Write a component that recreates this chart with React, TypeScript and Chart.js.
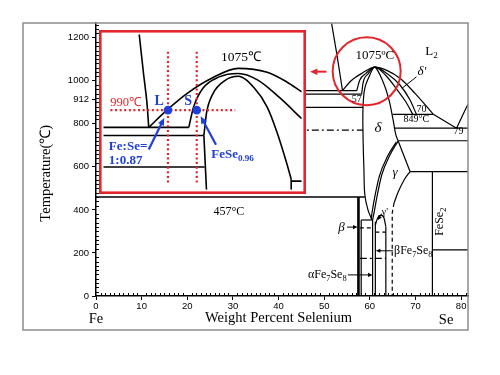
import React, { useEffect, useRef } from "react";
import { Chart, registerables } from "chart.js";
Chart.register(...registerables);

type Pt = { x: number; y: number };
const P = (x: number, y: number): Pt => ({ x, y });

// ---------- main diagram (wt% Se, °C) ----------
const xTickValues = [0, 10, 20, 30, 40, 50, 60, 70, 80];
const yTickValues = [0, 200, 400, 600, 800, 912, 1000, 1200];

const liquidusL1 = [P(51.6, 1268), P(52.8, 1119), P(54.0, 954)];
const monotectic954 = [P(44, 954), P(57.1, 954)];
const iso938 = [P(44, 938), P(58.2, 938)];
const iso876 = [P(44, 876), P(58.5, 876)];
const domeOuter = [P(54.0, 954), P(55.9, 1000), P(58.3, 1035), P(61.1, 1063), P(63.7, 1048), P(66.6, 1011), P(69.9, 941), P(73.9, 844)];
const outerTail = [P(73.9, 844), P(79.0, 779)];
const domeMid = [P(57.1, 952), P(57.8, 1003), P(59.1, 1033), P(61.1, 1063), P(63.9, 1031), P(66.6, 980), P(68.8, 910), P(70.2, 844)];
const domeInner = [P(58.2, 937), P(58.5, 989), P(59.6, 1031), P(61.1, 1063), P(63.5, 1024), P(65.7, 966), P(67.9, 901), P(69.4, 844)];
const deltaBoundary = [P(60.5, 353), P(59.6, 399), P(58.9, 469), P(58.7, 585), P(58.5, 748), P(58.5, 878), P(58.9, 966), P(60.0, 1027), P(61.1, 1063), P(62.9, 994), P(64.2, 910), P(65.1, 817), P(65.7, 748), P(66.2, 720)];
const liquidusL2 = [P(79.0, 779), P(80.2, 834), P(81.5, 891)];
const eutectic849 = [P(65.0, 844), P(73.9, 844)];
const iso780 = [P(65.3, 780), P(81.5, 780)];
const iso721 = [P(66.2, 721), P(81.5, 721)];
const gammaApex = [P(66.2, 720), P(68.8, 578)];
const iso578 = [P(68.8, 578), P(81.5, 578)];
const gammaRight = [P(65.3, 432), P(66.2, 483), P(67.5, 539), P(68.8, 578)];
const gammaRightDashed = [P(65.3, 432), P(64.9, 385), P(64.9, 0)];
const gammaLeftA = [P(60.6, 353), P(60.9, 385), P(61.5, 455), P(62.6, 562), P(64.4, 655), P(66.2, 720)];
const gammaLeftB = [P(60.3, 360), P(60.5, 390), P(61.0, 452), P(62.1, 558), P(63.9, 650), P(65.8, 716)];
const alphaLeft = [P(60.6, 353), P(60.6, 0)];
const alphaRight = [P(61.2, 345), P(61.2, 0)];
const gammaPrime = [P(61.2, 330), P(61.7, 362), P(62.4, 376), P(63.1, 362), P(63.5, 322)];
const gammaPrimeEdge = [P(63.5, 322), P(63.5, 0)];
const betaThick = [P(57.5, 460), P(57.5, 0)];
const betaEdge = [P(58.1, 353), P(58.1, 0)];
const iso353 = [P(58.1, 353), P(60.6, 353)];
const eutectoid457 = [P(0, 460), P(58.9, 460)];
const betaDashA = [P(57.8, 316), P(60.6, 316)];
const betaDashB = [P(61.2, 297), P(63.5, 297)];
const dashDot175 = [P(57.8, 175), P(63.5, 175)];
const dashDot770 = [P(44, 770), P(58.5, 770)];
const feSe2Line = [P(73.7, 578), P(73.7, 0)];
const iso214 = [P(73.7, 214), P(81.5, 214)];
const deltaPrimePointer = [P(67.0, 964), P(70.2, 1018)];

const mainLabels = [
  { text: "1075ºC", x: 61.1, y: 1119, size: 13 },
  { text: "L_{2}", x: 73.5, y: 1135, size: 13 },
  { text: "δ'", x: 71.4, y: 1042, size: 13, style: "italic" },
  { text: "57", x: 57.1, y: 914, size: 10 },
  { text: "70", x: 71.3, y: 866, size: 10 },
  { text: "849°C", x: 70.2, y: 821, size: 10 },
  { text: "79", x: 79.4, y: 763, size: 10 },
  { text: "δ", x: 61.8, y: 780, size: 15, style: "italic" },
  { text: "γ", x: 65.5, y: 571, size: 13, style: "italic" },
  { text: "457°C", x: 29.1, y: 389, size: 12 },
  { text: "β", x: 53.8, y: 319, size: 13, style: "italic" },
  { text: "βFe_{7}Se_{8}", x: 65.3, y: 210, size: 12, align: "left" },
  { text: "αFe_{7}Se_{8}", x: 54.9, y: 98, size: 12, align: "right" },
  { text: "γ'", x: 63.3, y: 390, size: 10 },
  { text: "FeSe_{2}", x: 75.4, y: 345, size: 12, rotate: -Math.PI / 2 },
];
const mainArrows = [
  { from: [55.0, 320], to: [57.3, 320] },
  { from: [65.1, 210], to: [61.3, 210] },
  { from: [55.2, 98], to: [60.6, 98] },
  { from: [62.6, 383], to: [61.7, 352] },
];

// ---------- inset (normalised 0-100 zoom of the δ dome) ----------
const insetL1 = [P(18.1, 100), P(20.2, 75.6), P(21.9, 57.3), P(22.9, 40.1)];
const insetIsoA = [P(0, 40.1), P(43.1, 40.1)];
const insetIsoB = [P(0, 34.9), P(50.7, 34.9)];
const insetIsoC = [P(0, 14.6), P(51.1, 14.6)];
const insetEdge = [P(50.7, 34.9), P(52.0, 0)];
const insetOuter = [P(22.9, 40.1), P(32.6, 51.8), P(42.3, 62.0), P(55.1, 72.0), P(68.0, 78.1), P(82.6, 75.6), P(92.3, 69.5), P(100, 63.0)];
const insetMid = [P(43.1, 40.1), P(45.5, 53.2), P(50.3, 65.4), P(58.4, 72.6), P(68.0, 74.8), P(77.7, 70.7), P(88.9, 59.2), P(100, 45.7)];
const insetInner = [P(50.7, 34.9), P(52.0, 49.2), P(55.1, 61.4), P(61.6, 70.5), P(68.0, 73.0), P(76.1, 65.4), P(82.6, 53.2), P(87.5, 37.2), P(92.3, 17.7), P(94.7, 6.7)];
const insetInnerFoot = [P(94.7, 6.7), P(94.7, 0)];
const insetStub = [P(94.7, 5.5), P(100, 5.5)];
const insetRedH = [P(3.6, 51.2), P(66.5, 51.2)];
const insetRedL = [P(32.6, 88.8), P(32.6, 3.5)];
const insetRedS = [P(47.1, 88.8), P(47.1, 3.5)];
const insetPoints = [P(32.6, 51.2), P(47.1, 51.2)];

const RED = "#e3262b";
const BLUE = "#1f3fd8";
const insetLabels = [
  { text: "990℃", x: 11.3, y: 55.7, size: 12.5, color: RED },
  { text: "L", x: 28.1, y: 56.6, size: 14, weight: "bold", color: BLUE },
  { text: "S", x: 42.8, y: 56.6, size: 14, weight: "bold", color: BLUE },
  { text: "1075℃", x: 69.4, y: 84.8, size: 13.5 },
  { text: "Fe:Se=", x: 2.8, y: 27.9, size: 13, weight: "bold", color: BLUE, align: "left" },
  { text: "1:0.87", x: 2.8, y: 18.7, size: 13, weight: "bold", color: BLUE, align: "left" },
  { text: "FeSe_{0.96}", x: 54.4, y: 22.7, size: 13, weight: "bold", color: BLUE, align: "left" },
];
const insetArrows = [
  { from: [22.9, 25.8], to: [30.7, 46.2] },
  { from: [56.8, 28.9], to: [49.1, 47.2] },
];

const SERIF = '"Liberation Serif", "Times New Roman", serif';

function drawRich(ctx: CanvasRenderingContext2D, text: string, x: number, y: number, o: any) {
  const size = o.size || 12;
  const segs: any[] = [];
  const re = /_\{([^}]*)\}/g;
  let last = 0;
  let m: RegExpExecArray | null;
  while ((m = re.exec(text))) {
    if (m.index > last) segs.push({ t: text.slice(last, m.index), sub: false });
    segs.push({ t: m[1], sub: true });
    last = re.lastIndex;
  }
  if (last < text.length) segs.push({ t: text.slice(last), sub: false });
  const font = (sub: boolean) =>
    [o.style || "", o.weight || "", (sub ? size * 0.7 : size) + "px", SERIF].filter(Boolean).join(" ");
  ctx.save();
  ctx.translate(x, y);
  if (o.rotate) ctx.rotate(o.rotate);
  let total = 0;
  for (const s of segs) {
    ctx.font = font(s.sub);
    s.w = ctx.measureText(s.t).width;
    total += s.w;
  }
  let cx = o.align === "left" ? 0 : o.align === "right" ? -total : -total / 2;
  ctx.fillStyle = o.color || "#000";
  ctx.textBaseline = "middle";
  ctx.textAlign = "left";
  for (const s of segs) {
    ctx.font = font(s.sub);
    ctx.fillText(s.t, cx, s.sub ? size * 0.3 : 0);
    cx += s.w;
  }
  ctx.restore();
}

function drawArrow(ctx: CanvasRenderingContext2D, x1: number, y1: number, x2: number, y2: number, color: string, width: number, head: number) {
  const a = Math.atan2(y2 - y1, x2 - x1);
  ctx.save();
  ctx.strokeStyle = color;
  ctx.fillStyle = color;
  ctx.lineWidth = width;
  ctx.setLineDash([]);
  ctx.beginPath();
  ctx.moveTo(x1, y1);
  ctx.lineTo(x2 - Math.cos(a) * head * 0.7, y2 - Math.sin(a) * head * 0.7);
  ctx.stroke();
  ctx.beginPath();
  ctx.moveTo(x2, y2);
  ctx.lineTo(x2 - head * Math.cos(a - 0.42), y2 - head * Math.sin(a - 0.42));
  ctx.lineTo(x2 - head * Math.cos(a + 0.42), y2 - head * Math.sin(a + 0.42));
  ctx.closePath();
  ctx.fill();
  ctx.restore();
}

const line = (data: Pt[], o: any = {}) => ({
  data,
  showLine: true,
  borderColor: "#000",
  borderWidth: 1.2,
  pointRadius: 0,
  pointHoverRadius: 0,
  fill: false,
  tension: 0,
  ...o,
});
const curve = (data: Pt[], o: any = {}) => line(data, { tension: 0.35, ...o });
const mono = (data: Pt[], o: any = {}) => line(data, { cubicInterpolationMode: "monotone", ...o });

const mainDecor = {
  id: "mainDecor",
  afterDraw(chart: any) {
    const { ctx, chartArea: ca } = chart;
    const xs = chart.scales.x;
    const ys = chart.scales.y;
    const X = (v: number) => xs.getPixelForValue(v);
    const Y = (v: number) => ys.getPixelForValue(v);
    ctx.save();
    // minor ticks
    ctx.strokeStyle = "#000";
    ctx.lineWidth = 1;
    ctx.beginPath();
    for (let v = 1; v <= 81; v++) {
      if (v % 10 === 0) continue;
      const p = Math.round(X(v)) + 0.5;
      ctx.moveTo(p, ca.bottom);
      ctx.lineTo(p, ca.bottom - 3);
    }
    for (let v = 20; v <= 1260; v += 20) {
      if (v % 200 === 0) continue;
      const p = Math.round(Y(v)) + 0.5;
      ctx.moveTo(ca.left, p);
      ctx.lineTo(ca.left + 3, p);
    }
    ctx.stroke();
    // outer grey frame
    ctx.strokeStyle = "#8c8c8c";
    ctx.lineWidth = 1.5;
    ctx.strokeRect(23, ca.top, ca.right - 23, 330 - ca.top);
    // red circle and arrow
    ctx.strokeStyle = RED;
    ctx.lineWidth = 2;
    ctx.beginPath();
    ctx.arc(X(59.3), Y(1044), 34, 0, Math.PI * 2);
    ctx.stroke();
    drawArrow(ctx, X(50.5), Y(1042), X(46.9), Y(1042), RED, 2, 8);
    // labels
    for (const l of mainLabels) drawRich(ctx, l.text, X(l.x), Y(l.y), l);
    for (const a of mainArrows) drawArrow(ctx, X(a.from[0]), Y(a.from[1]), X(a.to[0]), Y(a.to[1]), "#000", 1, 5);
    // axis titles
    drawRich(ctx, "Weight Percent Selenium", X(40), ca.bottom + 22, { size: 14.5 });
    drawRich(ctx, "Fe", X(0), ca.bottom + 23, { size: 14.5 });
    drawRich(ctx, "Se", X(76.7), ca.bottom + 24, { size: 14.5 });
    drawRich(ctx, "Temperature(℃)", ca.left - 50, Y(570), { size: 14.5, rotate: -Math.PI / 2 });
    ctx.restore();
  },
};

const insetDecor = {
  id: "insetDecor",
  afterDraw(chart: any) {
    const { ctx, width, height } = chart;
    const xs = chart.scales.x;
    const ys = chart.scales.y;
    const X = (v: number) => xs.getPixelForValue(v);
    const Y = (v: number) => ys.getPixelForValue(v);
    for (const l of insetLabels) drawRich(ctx, l.text, X(l.x), Y(l.y), l);
    for (const a of insetArrows) drawArrow(ctx, X(a.from[0]), Y(a.from[1]), X(a.to[0]), Y(a.to[1]), BLUE, 2.2, 8);
    ctx.save();
    ctx.strokeStyle = RED;
    ctx.lineWidth = 2.6;
    ctx.strokeRect(1.3, 1.3, width - 2.6, height - 2.6);
    ctx.restore();
  },
};

export default function App() {
  const mainRef = useRef<HTMLCanvasElement>(null);
  const insetRef = useRef<HTMLCanvasElement>(null);

  useEffect(() => {
    const tickFont = { family: '"Liberation Sans", Arial, sans-serif', size: 9.5 };
    const main = new Chart(mainRef.current as HTMLCanvasElement, {
      type: "scatter",
      data: {
        datasets: [
          mono(liquidusL1),
          line(monotectic954),
          line(iso938),
          line(iso876),
          mono(domeOuter),
          line(outerTail),
          mono(domeMid),
          mono(domeInner),
          curve(deltaBoundary),
          mono(liquidusL2),
          line(eutectic849),
          line(iso780),
          line(iso721),
          line(gammaApex),
          line(iso578),
          mono(gammaRight),
          line(gammaRightDashed, { borderDash: [4, 3] }),
          mono(gammaLeftA),
          mono(gammaLeftB),
          line(alphaLeft),
          line(alphaRight),
          mono(gammaPrime),
          line(gammaPrimeEdge),
          line(betaThick, { borderWidth: 2.6 }),
          line(betaEdge),
          line(iso353),
          line(eutectoid457, { borderWidth: 1.4 }),
          line(betaDashA, { borderDash: [4, 3] }),
          line(betaDashB, { borderDash: [4, 3] }),
          line(dashDot175, { borderDash: [7, 3, 2, 3] }),
          line(dashDot770, { borderDash: [7, 3, 2, 3] }),
          line(feSe2Line),
          line(iso214),
          line(deltaPrimePointer, { borderWidth: 1 }),
        ] as any,
      },
      options: {
        animation: false,
        responsive: false,
        devicePixelRatio: 1,
        events: [],
        layout: { padding: { top: 23, right: 32, left: 0, bottom: 0 } },
        plugins: { legend: { display: false }, tooltip: { enabled: false } },
        scales: {
          x: {
            type: "linear",
            min: 0,
            max: 81.5,
            afterBuildTicks: (s: any) => {
              s.ticks = xTickValues.map((v) => ({ value: v }));
            },
            afterFit: (s: any) => {
              s.height = 79;
            },
            ticks: { font: tickFont, color: "#000", padding: 1, maxRotation: 0, autoSkip: false, callback: (v: any) => String(v) },
            grid: { drawOnChartArea: false, color: "#000", tickLength: 4, lineWidth: 1 },
            border: { color: "#000", width: 1.5 },
          },
          y: {
            type: "linear",
            min: 0,
            max: 1268,
            afterBuildTicks: (s: any) => {
              s.ticks = yTickValues.map((v) => ({ value: v }));
            },
            afterFit: (s: any) => {
              s.width = 96;
            },
            ticks: { font: tickFont, color: "#000", padding: 3, autoSkip: false, callback: (v: any) => String(v) },
            grid: { drawOnChartArea: false, color: "#000", tickLength: 4, lineWidth: 1 },
            border: { color: "#000", width: 1.5 },
          },
        },
      } as any,
      plugins: [mainDecor],
    });

    const red = { borderColor: RED, borderWidth: 2.2, borderDash: [2, 2.6] };
    const lw = { borderWidth: 1.6 };
    const inset = new Chart(insetRef.current as HTMLCanvasElement, {
      type: "scatter",
      data: {
        datasets: [
          { data: insetPoints, pointRadius: 4.3, pointBackgroundColor: BLUE, pointBorderWidth: 0, showLine: false },
          line(insetRedH, red),
          line(insetRedL, red),
          line(insetRedS, red),
          curve(insetL1, { borderWidth: 1.6, tension: 0.2 }),
          line(insetIsoA, lw),
          line(insetIsoB, lw),
          line(insetIsoC, lw),
          line(insetEdge, lw),
          mono(insetOuter, lw),
          mono(insetMid, lw),
          mono(insetInner, lw),
          line(insetInnerFoot, lw),
          line(insetStub, lw),
        ] as any,
      },
      options: {
        animation: false,
        responsive: false,
        devicePixelRatio: 1,
        events: [],
        layout: { padding: 0 },
        plugins: { legend: { display: false }, tooltip: { enabled: false } },
        scales: {
          x: { type: "linear", min: 0, max: 100, display: false },
          y: { type: "linear", min: 0, max: 100, display: false },
        },
      } as any,
      plugins: [insetDecor],
    });

    return () => {
      main.destroy();
      inset.destroy();
    };
  }, []);

  return (
    <div style={{ position: "absolute", left: 0, top: 0, width: 500, height: 375, background: "#fff" }}>
      <canvas
        ref={mainRef}
        width={500}
        height={375}
        style={{ position: "absolute", left: 0, top: 0, width: 500, height: 375 }}
      />
      <canvas
        ref={insetRef}
        width={207}
        height={164}
        style={{ position: "absolute", left: 99, top: 30, width: 207, height: 164, background: "#fff" }}
      />
    </div>
  );
}
